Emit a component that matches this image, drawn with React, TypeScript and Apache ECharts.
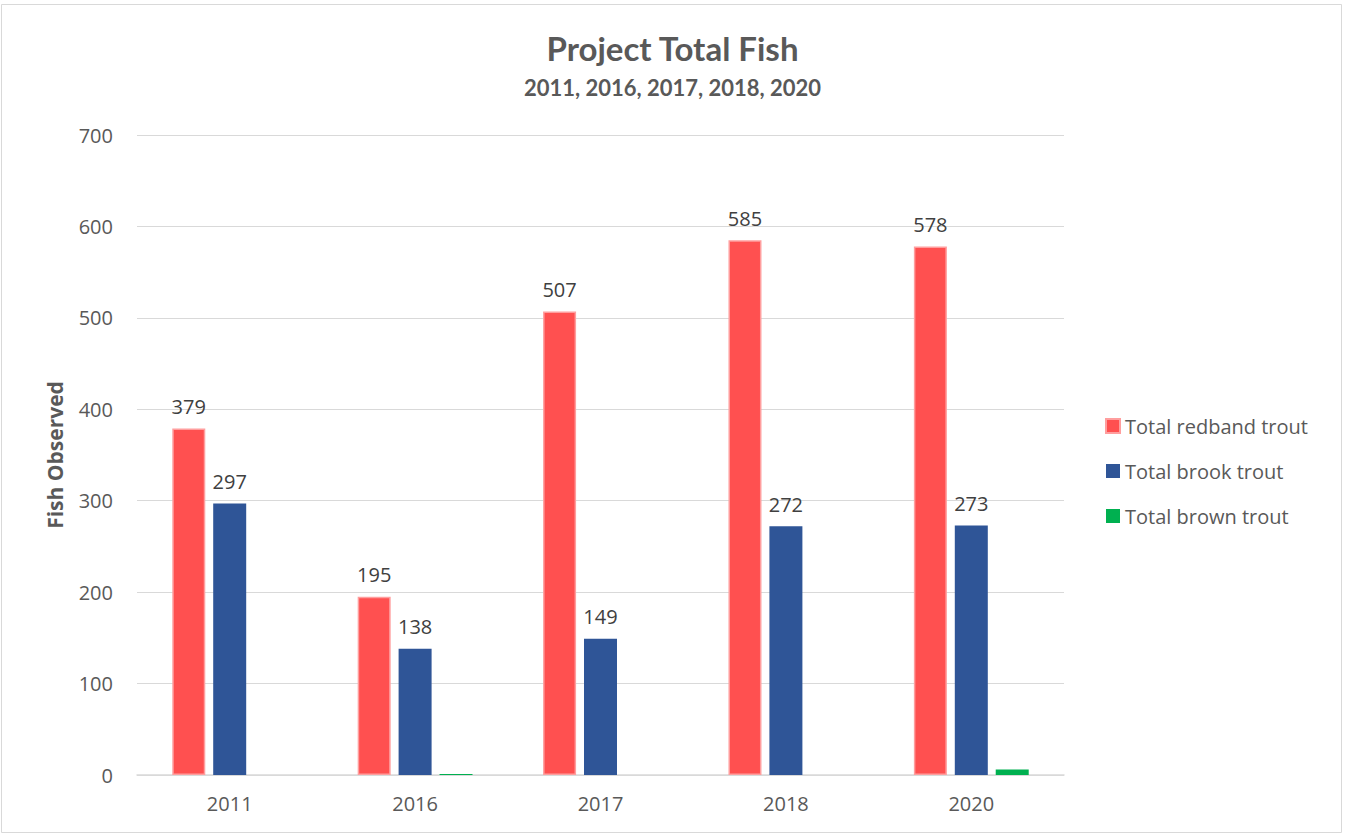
import React, { useEffect, useRef } from "react";
import * as echarts from "echarts";

const years = ["2011", "2016", "2017", "2018", "2020"];
const redband = [379, 195, 507, 585, 578];
const brook = [297, 138, 149, 272, 273];
const brown = [0, 1, 0, 0, 6];
const seriesNames = ["Total redband trout", "Total brook trout", "Total brown trout"];

export default function App() {
  const ref = useRef<HTMLDivElement>(null);
  useEffect(() => {
    const chart = echarts.init(ref.current!, null, { renderer: "svg" });
    const txt = "#595959";
    const labelStyle = {
      show: true,
      position: "top",
      distance: 12,
      color: "#404040",
      fontSize: 20,
      fontFamily: "Open Sans",
    };
    chart.setOption({
      animation: false,
      backgroundColor: "#ffffff",
      title: [
        {
          text: "Project Total Fish",
          left: "center",
          top: 26,
          textStyle: { fontFamily: "Lato", fontWeight: "bold", fontSize: 33, color: txt },
        },
        {
          text: "2011, 2016, 2017, 2018, 2020",
          left: "center",
          top: 71,
          textStyle: { fontFamily: "Lato", fontWeight: "bold", fontSize: 22, color: txt },
        },
      ],
      graphic: [
        {
          type: "rect",
          shape: { x: 1.5, y: 4.5, width: 1340, height: 828 },
          style: { fill: "none", stroke: "#D9D9D9", lineWidth: 1 },
          silent: true,
        },
      ],
      legend: {
        orient: "vertical",
        left: 1100,
        top: 411,
        itemWidth: 14,
        itemHeight: 14,
        itemGap: 25,
        icon: "rect",
        textStyle: { fontFamily: "Open Sans", fontSize: 20, color: txt },
        data: seriesNames,
      },
      grid: { left: 137, right: 281, top: 135, bottom: 60 },
      xAxis: {
        type: "category",
        data: years,
        axisLine: { lineStyle: { color: "#D9D9D9", width: 1.5 } },
        axisTick: { show: false },
        axisLabel: { color: txt, fontSize: 20, fontFamily: "Open Sans", margin: 18 },
      },
      yAxis: {
        type: "value",
        min: 0,
        max: 700,
        interval: 100,
        name: "Fish Observed",
        nameLocation: "middle",
        nameGap: 72,
        nameTextStyle: { color: txt, fontSize: 21, fontWeight: "bold", fontFamily: "Open Sans" },
        axisLine: { show: false },
        axisTick: { show: false },
        axisLabel: { color: txt, fontSize: 20, fontFamily: "Open Sans", margin: 24 },
        splitLine: { lineStyle: { color: "#D9D9D9", width: 1 } },
      },
      series: [
        {
          name: seriesNames[0],
          type: "bar",
          data: redband,
          barWidth: 33,
          barGap: "24%",
          itemStyle: { color: "#FF5050", borderColor: "#FF9E9E", borderWidth: 1.5 },
          label: labelStyle,
        },
        {
          name: seriesNames[1],
          type: "bar",
          data: brook,
          barWidth: 33,
          barGap: "24%",
          itemStyle: { color: "#2F5597" },
          label: labelStyle,
        },
        {
          name: seriesNames[2],
          type: "bar",
          data: brown,
          barWidth: 33,
          barGap: "24%",
          itemStyle: { color: "#00B050" },
          label: { show: false },
        },
      ],
    });
    return () => chart.dispose();
  }, []);
  return (
    <div
      ref={ref}
      style={{ position: "fixed", left: 0, top: 0, width: 1345, height: 835 }}
    />
  );
}
